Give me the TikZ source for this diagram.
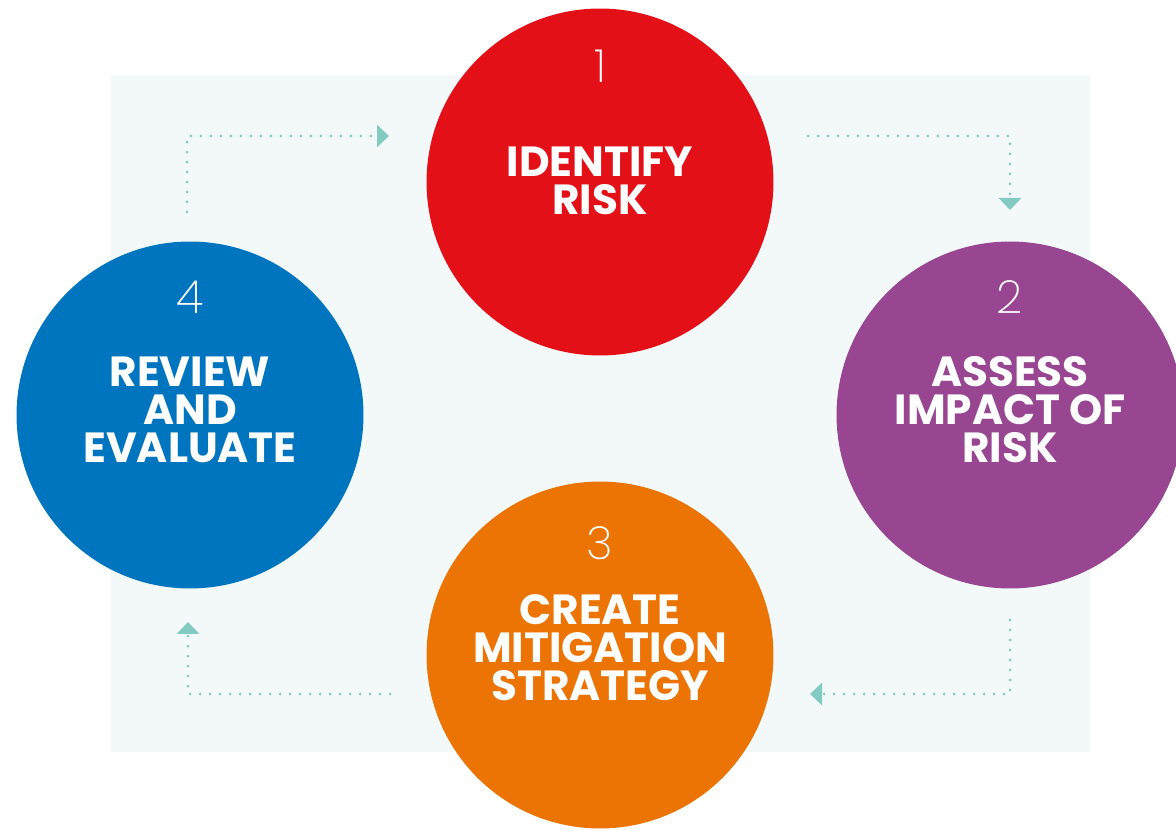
\documentclass[tikz,border=0pt]{standalone}
\usepackage{fontspec}
\setmainfont{Poppins}
\newfontfamily\numfont{Poppins ExtraLight}
\usetikzlibrary{arrows.meta, positioning, calc}
\definecolor{riskred}{HTML}{E31018}
\definecolor{riskpurple}{HTML}{984592}
\definecolor{riskorange}{HTML}{EC7404}
\definecolor{riskblue}{HTML}{0075BF}
\definecolor{panelbg}{HTML}{F3F9F9}
\definecolor{flowteal}{HTML}{82CBC2}
\tikzset{%
	stage/.style={circle, minimum size=6.94cm, inner sep=0mm},
	stagetext/.style={text=white, align=center, inner sep=0mm,%
		font=\bfseries\fontsize{24}{21.6}\selectfont},
	num/.style={text=white, font=\numfont\fontsize{26}{26}\selectfont},
	flow/.style={draw=flowteal, line width=0.06cm, line cap=round, dash pattern=on 0pt off 0.2cm,%
		-{Triangle[length=0.24cm, width=0.44cm]}}
}

\begin{document}
\begin{tikzpicture}[x=0.02cm, y=-0.02cm]
	\clip (0,0) rectangle (1176,830);
	%panel
	\fill [panelbg] (111,75) rectangle (1090,752);

	%stages
	\node [stage, fill=riskred]    (I) at (600,182) {};
	\node [stage, fill=riskpurple] (A) at (1010,415) {};
	\node [stage, fill=riskorange] (C) at (600,655) {};
	\node [stage, fill=riskblue]   (R) at (190,415) {};

	%texts
	\node [stagetext] (tI) at ($(I.center)+(0,-1)$) {IDENTIFY\\RISK};
	\node [stagetext] (tA) at ($(A.center)+(0,-5)$) {ASSESS\\IMPACT OF\\RISK};
	\node [stagetext] (tC) at ($(C.center)+(0,-7)$) {CREATE\\MITIGATION\\STRATEGY};
	\node [stagetext] (tR) at ($(R.center)+(0,-5)$) {REVIEW\\AND\\EVALUATE};

	%numbers
	\node [num] (n1) at ($(I.center)+(0,-116)$) {1};
	\node [num] (n2) at ($(A.center)+(0,-118)$) {2};
	\node [num] (n3) at ($(C.center)+(0,-112)$) {3};
	\node [num] (n4) at ($(R.center)+(0,-118)$) {4};

	%flow
	\coordinate (RI) at (187,212);  \coordinate (IR) at (389,136);
	\coordinate (IA) at (808,136);  \coordinate (AI) at (1010,210);
	\coordinate (AC) at (1010,620); \coordinate (CA) at (810,694);
	\coordinate (CR) at (390,694);  \coordinate (RC) at (188,622);
	\draw [flow] (RI) |- (IR);
	\draw [flow] (IA) -| (AI);
	\draw [flow] (AC) |- (CA);
	\draw [flow] (CR) -| (RC);
\end{tikzpicture}
\end{document}
